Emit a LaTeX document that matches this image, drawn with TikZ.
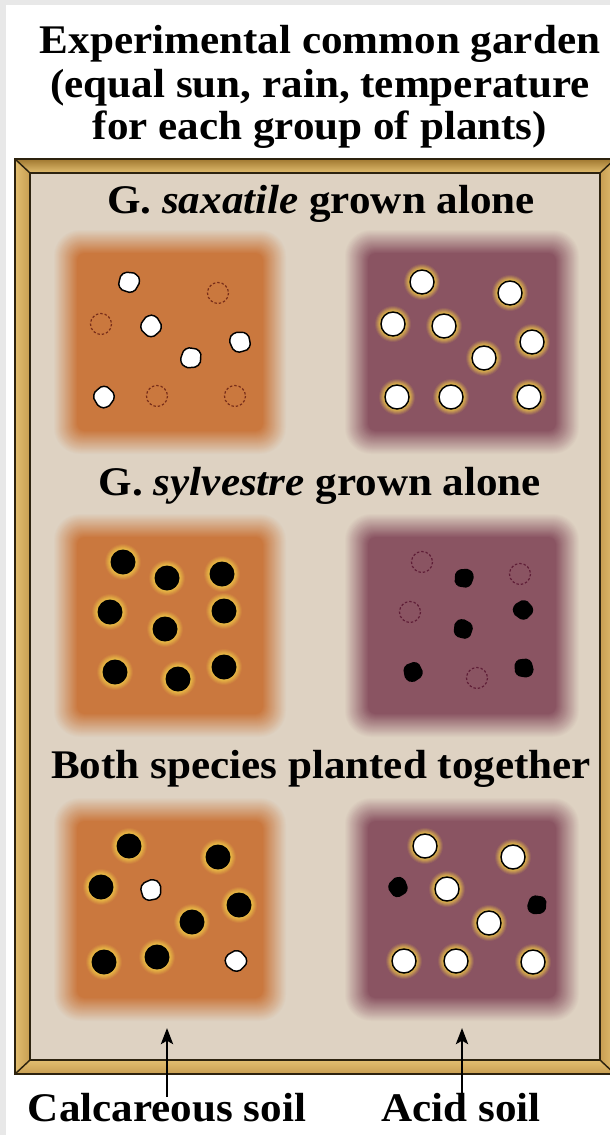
\documentclass[tikz,border=0pt]{standalone}
\usepackage{fontspec}
\setmainfont{Liberation Serif}[FakeStretch=1.06]
\usetikzlibrary{arrows.meta}
\definecolor{bgray}{RGB}{232,232,232}
\definecolor{beige}{RGB}{222,210,194}
\definecolor{calc}{RGB}{202,120,62}
\definecolor{acid}{RGB}{138,84,98}
\definecolor{glow}{RGB}{240,200,70}
\definecolor{frameD}{RGB}{160,120,48}
\definecolor{frameM}{RGB}{200,158,82}
\definecolor{frameL}{RGB}{226,190,112}
\definecolor{frameE}{RGB}{45,35,15}
\definecolor{deadC}{RGB}{120,45,25}
\definecolor{deadA}{RGB}{95,30,55}
\newcommand{\soilcol}{calc}
\newcommand{\deadcol}{deadC}
\newcommand{\soilsq}[5]{%
  \foreach \i in {24,23,...,0}{%
    \pgfmathtruncatemacro\p{100-\i*100/24}%
    \fill[#5!\p!beige, rounded corners=6+\i*0.6] ({#1-\i},{#2-\i}) rectangle ({#3+\i},{#4+\i});
  }}
\tikzset{
  lbl/.style={font=\bfseries\fontsize{30.5}{33}\selectfont, inner sep=0pt, anchor=base},
  soilarrow/.style={draw=black, line width=2.2pt, -{Stealth[length=12pt,width=9pt,inset=2.5pt]}},
  outl/.style={draw=frameE, line width=1.1pt, line join=miter},
  hW/.pic={
    \foreach \k in {6,5,...,1}{\pgfmathtruncatemacro\q{100-\k*15}\fill[glow!\q!\soilcol] (0,0) circle[radius={12+\k}];}
    \filldraw[fill=white, draw=black, line width=1.1pt] (0,0) circle[radius=12];},
  hB/.pic={
    \foreach \k in {6,5,...,1}{\pgfmathtruncatemacro\q{100-\k*15}\fill[glow!\q!\soilcol] (0,0) circle[radius={12+\k}];}
    \fill[black] (0,0) circle[radius=12.5];},
  sW/.pic={
    \filldraw[fill=white, draw=black, line width=1.1pt, line join=round] plot[smooth cycle, tension=0.9] coordinates {(0:10.6) (40:9.6) (80:10.4) (120:9.8) (160:10.7) (200:9.7) (245:10.3) (290:9.5) (325:10.4)};},
  sB/.pic={
    \fill[black] plot[smooth cycle, tension=0.9] coordinates {(0:10) (40:9.1) (80:9.9) (120:9.3) (160:10.2) (200:9.2) (245:9.8) (290:9) (325:9.9)};},
  dd/.pic={
    \draw[\deadcol, line width=0.9pt, dash pattern=on 1.8pt off 1.5pt] (0,0) circle[radius=10.5];}
}
\begin{document}
\begin{tikzpicture}[x=0.75pt,y=-0.75pt]
\useasboundingbox (0,0) rectangle (610,1135);
\fill[white] (0,0) rectangle (610,1135);
\fill[bgray] (0,0) rectangle (610,5);
\fill[bgray] (0,0) rectangle (6,1135);

% titles
\node[lbl] (t1) at (320,53) {Experimental common garden};
\node[lbl] (t2) at (320,97) {(equal sun, rain, temperature};
\node[lbl] (t3) at (320,139) {for each group of plants)};

% frame
\begin{scope}
\clip (0,0) rectangle (610,1135);
\shade[top color=frameD, bottom color=frameL] (15,159) -- (615,159) -- (600,173) -- (30,173) -- cycle;
\shade[left color=frameL, right color=frameM] (15,159) -- (30,173) -- (30,1060) -- (15,1074) -- cycle;
\shade[top color=frameL, bottom color=frameM] (15,1074) -- (30,1060) -- (600,1060) -- (615,1074) -- cycle;
\shade[left color=frameM, right color=frameL] (615,159) -- (600,173) -- (600,1060) -- (615,1074) -- cycle;
\fill[beige] (30,173) rectangle (600,1060);
\draw[outl] (15,159) rectangle (615,1074);
\draw[outl] (30,173) rectangle (600,1060);
\draw[outl] (15,159) -- (30,173) (615,159) -- (600,173) (15,1074) -- (30,1060) (615,1074) -- (600,1060);
\end{scope}

% soil squares
\soilsq{77}{253}{263}{431}{calc}
\soilsq{368}{253}{556}{431}{acid}
\soilsq{77}{537}{263}{714}{calc}
\soilsq{368}{537}{556}{714}{acid}
\soilsq{77}{821}{263}{998}{calc}
\soilsq{368}{821}{556}{998}{acid}

% section labels
\node[lbl] (s1) at (321,213) {G. \textit{saxatile} grown alone};
\node[lbl] (s2) at (320,495) {G. \textit{sylvestre} grown alone};
\node[lbl] (s3) at (321,778) {Both species planted together};

% row 1 left: G. saxatile on calcareous
\renewcommand{\soilcol}{calc}\renewcommand{\deadcol}{deadC}
\pic[rotate=10] at (129,282) {sW};
\pic at (218,293) {dd};
\pic at (101,324) {dd};
\pic[rotate=70] at (151,326) {sW};
\pic[rotate=130] at (240,342) {sW};
\pic[rotate=200] at (191,358) {sW};
\pic[rotate=250] at (104,397) {sW};
\pic at (157,396) {dd};
\pic at (235,396) {dd};

% row 1 right
\renewcommand{\soilcol}{acid}\renewcommand{\deadcol}{deadA}
\pic at (422,282) {hW};
\pic at (510,293) {hW};
\pic at (393,324) {hW};
\pic at (444,326) {hW};
\pic at (532,342) {hW};
\pic at (484,358) {hW};
\pic at (397,397) {hW};
\pic at (451,397) {hW};
\pic at (529,397) {hW};

% row 2 left
\renewcommand{\soilcol}{calc}\renewcommand{\deadcol}{deadC}
\pic at (123,562) {hB};
\pic at (167,578) {hB};
\pic at (222,574) {hB};
\pic at (110,612) {hB};
\pic at (165,629) {hB};
\pic at (224,611) {hB};
\pic at (115,672) {hB};
\pic at (178,679) {hB};
\pic at (224,667) {hB};

% row 2 right
\renewcommand{\soilcol}{acid}\renewcommand{\deadcol}{deadA}
\pic at (422,562) {dd};
\pic[rotate=20] at (464,578) {sB};
\pic at (520,574) {dd};
\pic at (410,612) {dd};
\pic[rotate=100] at (463,629) {sB};
\pic[rotate=160] at (523,610) {sB};
\pic[rotate=230] at (413,672) {sB};
\pic at (477,678) {dd};
\pic[rotate=300] at (524,668) {sB};

% row 3 left
\renewcommand{\soilcol}{calc}\renewcommand{\deadcol}{deadC}
\pic at (129,846) {hB};
\pic at (218,857) {hB};
\pic at (101,887) {hB};
\pic[rotate=40] at (151,890) {sW};
\pic at (239,905) {hB};
\pic at (192,922) {hB};
\pic at (104,962) {hB};
\pic at (157,957) {hB};
\pic[rotate=160] at (236,961) {sW};

% row 3 right
\renewcommand{\soilcol}{acid}\renewcommand{\deadcol}{deadA}
\pic at (425,846) {hW};
\pic at (513,857) {hW};
\pic[rotate=60] at (398,887) {sB};
\pic at (447,889) {hW};
\pic[rotate=200] at (537,905) {sB};
\pic at (489,923) {hW};
\pic at (404,961) {hW};
\pic at (456,961) {hW};
\pic at (533,962) {hW};

% bottom labels and arrows
\node[lbl] (lcalc) at (167,1121) {Calcareous soil};
\node[lbl] (lacid) at (461,1121) {Acid soil};
\coordinate (hcalc) at (167,1028);
\coordinate (hacid) at (462,1028);
\coordinate (bcalc) at (167,1097);
\coordinate (bacid) at (462,1097);
\draw[soilarrow] (bcalc) -- (hcalc);
\draw[soilarrow] (bacid) -- (hacid);
\end{tikzpicture}
\end{document}
